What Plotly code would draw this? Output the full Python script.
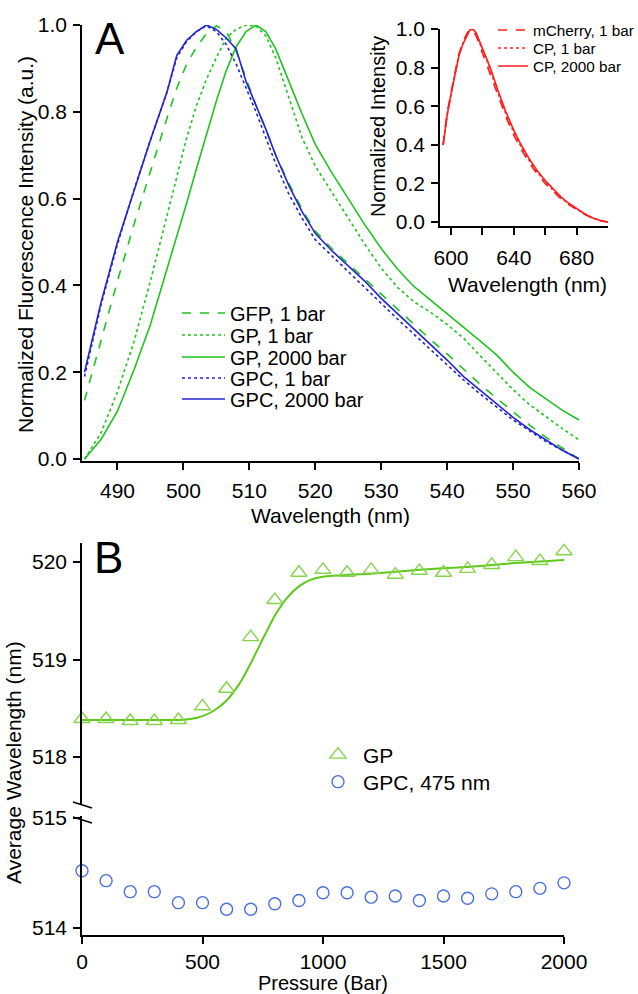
import plotly.graph_objects as go

# ---------------- Panel A data ----------------
wl = [485, 487.5, 490, 492.5, 495, 497.5, 499, 500.5, 502, 503.5, 505, 506.5, 508, 509.5,
      511, 512.5, 514, 516, 518, 520, 522.5, 525, 527.5, 530, 532.5, 535, 537.5, 540,
      542.5, 545, 547.5, 550, 552.5, 555, 557.5, 560]
gfp_1bar = [0.135, 0.275, 0.41, 0.54, 0.665, 0.785, 0.855, 0.91, 0.95, 0.98, 0.998, 0.985, 0.94, 0.875,
            0.815, 0.76, 0.70, 0.635, 0.575, 0.525, 0.485, 0.45, 0.415, 0.378, 0.343, 0.308, 0.275, 0.242,
            0.207, 0.172, 0.14, 0.108, 0.078, 0.05, 0.025, 0.0]
gp_1bar = [0.0, 0.06, 0.155, 0.27, 0.41, 0.56, 0.655, 0.74, 0.815, 0.875, 0.925, 0.97, 0.99, 1.0,
           0.998, 0.975, 0.925, 0.83, 0.74, 0.675, 0.615, 0.555, 0.495, 0.44, 0.395, 0.362, 0.338, 0.31,
           0.278, 0.238, 0.198, 0.16, 0.125, 0.097, 0.07, 0.044]
gp_2000bar = [0.0, 0.045, 0.11, 0.205, 0.31, 0.435, 0.515, 0.59, 0.67, 0.75, 0.825, 0.895, 0.95, 0.985,
              1.0, 0.985, 0.945, 0.87, 0.795, 0.725, 0.66, 0.60, 0.54, 0.485, 0.437, 0.397, 0.366, 0.335,
              0.305, 0.272, 0.24, 0.2, 0.165, 0.138, 0.112, 0.09]
gpc_1bar = [0.19, 0.355, 0.495, 0.62, 0.735, 0.845, 0.925, 0.962, 0.985, 0.998, 0.985, 0.955, 0.91, 0.855,
            0.80, 0.74, 0.68, 0.61, 0.555, 0.505, 0.468, 0.432, 0.395, 0.358, 0.322, 0.287, 0.252, 0.217,
            0.182, 0.15, 0.12, 0.09, 0.065, 0.04, 0.02, 0.0]
gpc_2000bar = [0.20, 0.36, 0.50, 0.62, 0.735, 0.845, 0.93, 0.965, 0.985, 1.0, 0.99, 0.97, 0.945, 0.87,
               0.815, 0.76, 0.70, 0.63, 0.57, 0.52, 0.48, 0.445, 0.41, 0.37, 0.335, 0.30, 0.265, 0.228,
               0.19, 0.158, 0.126, 0.096, 0.068, 0.043, 0.02, 0.0]

# ---------------- Inset data ----------------
wl_in = [595, 597.5, 600, 602.5, 605, 607.5, 610, 612, 614, 616, 618, 620, 622.5, 625, 630, 635,
         640, 645, 650, 655, 660, 665, 670, 675, 680, 685, 690, 695, 700]
mcherry_1bar = [0.40, 0.56, 0.67, 0.78, 0.87, 0.93, 0.975, 1.0, 0.99, 0.965, 0.92, 0.875, 0.83, 0.77, 0.65,
                0.545, 0.45, 0.372, 0.305, 0.248, 0.2, 0.158, 0.12, 0.09, 0.065, 0.04, 0.02, 0.007, 0.0]
cp_1bar = [0.40, 0.555, 0.665, 0.775, 0.865, 0.925, 0.97, 0.998, 0.998, 0.975, 0.935, 0.89, 0.848, 0.787,
           0.667, 0.56, 0.465, 0.385, 0.317, 0.258, 0.209, 0.165, 0.126, 0.094, 0.068, 0.042, 0.021, 0.008, 0.0]
cp_2000bar = [0.40, 0.55, 0.66, 0.77, 0.86, 0.92, 0.965, 0.995, 1.0, 0.98, 0.94, 0.90, 0.86, 0.80, 0.68,
              0.57, 0.475, 0.395, 0.325, 0.265, 0.215, 0.17, 0.13, 0.097, 0.07, 0.043, 0.022, 0.008, 0.0]

# ---------------- Panel B data ----------------
pressure = [0, 100, 200, 300, 400, 500, 600, 700, 800, 900, 1000, 1100, 1200, 1300, 1400, 1500,
            1600, 1700, 1800, 1900, 2000]
gp_avg = [518.39, 518.39, 518.37, 518.37, 518.38, 518.52, 518.70, 519.23, 519.61, 519.89, 519.92,
          519.89, 519.92, 519.87, 519.91, 519.89, 519.93, 519.97, 520.05, 520.01, 520.11]
gpc_avg = [514.52, 514.43, 514.33, 514.33, 514.23, 514.23, 514.17, 514.17, 514.22, 514.25, 514.32,
           514.32, 514.28, 514.29, 514.25, 514.29, 514.27, 514.31, 514.33, 514.36, 514.41]
fit_p = [0, 100, 200, 300, 400, 450, 500, 550, 600, 650, 700, 750, 800, 850, 900, 950, 1000,
         1200, 1400, 1600, 1800, 2000]
fit_gp = [518.38, 518.38, 518.38, 518.38, 518.38, 518.39, 518.42, 518.48, 518.58, 518.74, 518.96,
          519.21, 519.45, 519.63, 519.75, 519.82, 519.85, 519.88, 519.92, 519.95, 519.99, 520.02]

W, H = 638, 994
FONT = "Liberation Sans, Arial, sans-serif"
GREEN = "#1fc41f"
BLUE = "#2424d2"
RED = "#ff1f1f"
GP_MARK = "#86d44e"
GP_LINE = "#5fc81c"
GPC_MARK = "#4a6fe0"


def px(x):
    return x / W


def py(y):
    return 1 - y / H


fig = go.Figure()

lw = 1.6
topspec = [
    ("GFP, 1 bar", gfp_1bar, GREEN, "dash"),
    ("GP, 1 bar", gp_1bar, GREEN, "dot"),
    ("GP, 2000 bar", gp_2000bar, GREEN, "solid"),
    ("GPC, 1 bar", gpc_1bar, BLUE, "dot"),
    ("GPC, 2000 bar", gpc_2000bar, BLUE, "solid"),
]
top_rows = [313, 335, 357, 378, 399]
legends = {}
for i, (name, vals, col, dash) in enumerate(topspec):
    lname = "legend" if i == 0 else f"legend{10 + i}"
    fig.add_trace(go.Scatter(x=wl, y=vals, mode="lines", name=name, xaxis="x", yaxis="y",
                             line=dict(color=col, width=lw, dash=dash), legend=lname))
    legends[lname] = dict(x=px(177), y=py(top_rows[i]), xanchor="left", yanchor="middle",
                          bgcolor="rgba(0,0,0,0)", font=dict(family=FONT, size=20, color="black"),
                          itemwidth=43)

insetspec = [
    ("mCherry, 1 bar", mcherry_1bar, "dash"),
    ("CP, 1 bar", cp_1bar, "dot"),
    ("CP, 2000 bar", cp_2000bar, "solid"),
]
inset_rows = [30, 48, 66]
for i, (name, vals, dash) in enumerate(insetspec):
    lname = f"legend{20 + i}"
    fig.add_trace(go.Scatter(x=wl_in, y=vals, mode="lines", name=name, xaxis="x2", yaxis="y2",
                             line=dict(color=RED, width=lw, dash=dash), legend=lname))
    legends[lname] = dict(x=px(493), y=py(inset_rows[i]), xanchor="left", yanchor="middle",
                          bgcolor="rgba(0,0,0,0)", font=dict(family=FONT, size=15.3, color="black"),
                          itemwidth=30)

fig.add_trace(go.Scatter(x=fit_p, y=fit_gp, mode="lines", showlegend=False, xaxis="x3", yaxis="y4",
                         line=dict(color=GP_LINE, width=2, shape="spline", smoothing=0.6)))
fig.add_trace(go.Scatter(x=pressure, y=gp_avg, mode="markers", name="GP", xaxis="x3", yaxis="y4",
                         marker=dict(symbol="triangle-up-open", size=14, color=GP_MARK, line=dict(width=1.4)),
                         cliponaxis=False, legend="legend3"))
fig.add_trace(go.Scatter(x=pressure, y=gpc_avg, mode="markers", name="GPC, 475 nm", xaxis="x3", yaxis="y3",
                         marker=dict(symbol="circle-open", size=12, color=GPC_MARK, line=dict(width=1.4)),
                         cliponaxis=False, legend="legend4"))
for lname, row in [("legend3", 755), ("legend4", 782)]:
    legends[lname] = dict(x=px(313), y=py(row), xanchor="left", yanchor="middle", bgcolor="rgba(0,0,0,0)",
                          font=dict(family=FONT, size=21, color="black"), itemwidth=40)

axcommon = dict(showline=True, linecolor="black", linewidth=1.5, ticks="outside", ticklen=7,
                tickwidth=1.5, tickcolor="black", showgrid=False, zeroline=False,
                tickfont=dict(family=FONT, size=21, color="black"))

fig.update_layout(
    width=W, height=H, margin=dict(l=0, r=0, t=0, b=0, autoexpand=False),
    paper_bgcolor="white", plot_bgcolor="white",
    font=dict(family=FONT, color="black"),
    xaxis=dict(domain=[px(82), px(579)], range=[484.62, 560], anchor="y",
               tickvals=[490, 500, 510, 520, 530, 540, 550, 560], ticklabelstandoff=3, **axcommon),
    yaxis=dict(domain=[py(461), py(25)], range=[-0.0046, 1.0], anchor="x",
               tickvals=[0, 0.2, 0.4, 0.6, 0.8, 1.0], tickformat=".1f", ticklabelstandoff=2, **axcommon),
    xaxis2=dict(domain=[px(440), px(608)], range=[593, 700], anchor="y2",
                tickvals=[600, 640, 680], ticklabelstandoff=5,
                minor=dict(tickvals=[620, 660], ticklen=7, tickwidth=1.5, tickcolor="black", ticks="outside"),
                **axcommon),
    yaxis2=dict(domain=[py(226), py(29)], range=[-0.0207, 1.0], anchor="x2",
                tickvals=[0, 0.2, 0.4, 0.6, 0.8, 1.0], tickformat=".1f", ticklabelstandoff=2, **axcommon),
    xaxis3=dict(domain=[px(82), px(564)], range=[0, 2000], anchor="y3",
                tickvals=[0, 500, 1000, 1500, 2000], **axcommon),
    yaxis3=dict(domain=[py(935), py(816)], range=[513.936, 515.018], anchor="x3",
                tickvals=[514, 515], ticklabelstandoff=2, **axcommon),
    yaxis4=dict(domain=[py(805), py(543)], range=[517.508, 520.195], anchor="x3",
                tickvals=[518, 519, 520], ticklabelstandoff=2, **axcommon),
    **legends,
)

ann = [
    dict(text="A", x=px(110), y=py(39), font=dict(size=44)),
    dict(text="B", x=px(108), y=py(557), font=dict(size=44)),
    dict(text="Normalized Fluorescence Intensity (a.u.)", x=px(25), y=py(245), textangle=-90, font=dict(size=21)),
    dict(text="Wavelength (nm)", x=px(330), y=py(515), font=dict(size=21)),
    dict(text="Normalized Intensity", x=px(378), y=py(127), textangle=-90, font=dict(size=20)),
    dict(text="Wavelength (nm)", x=px(527), y=py(284), font=dict(size=21)),
    dict(text="Average Wavelength (nm)", x=px(13), y=py(763), textangle=-90, font=dict(size=21)),
    dict(text="Pressure (Bar)", x=px(323), y=py(983), font=dict(size=20)),
]
for a in ann:
    a.update(xref="paper", yref="paper", showarrow=False, xanchor="center", yanchor="middle")
    a["font"].update(family=FONT, color="black")
    fig.add_annotation(**a)

# axis-break marks
for y0, y1 in [(802, 808), (817, 823)]:
    fig.add_shape(type="line", xref="paper", yref="paper", x0=px(73), x1=px(92), y0=py(y0), y1=py(y1),
                  line=dict(color="black", width=1.5))

fig.write_html("out.html")
